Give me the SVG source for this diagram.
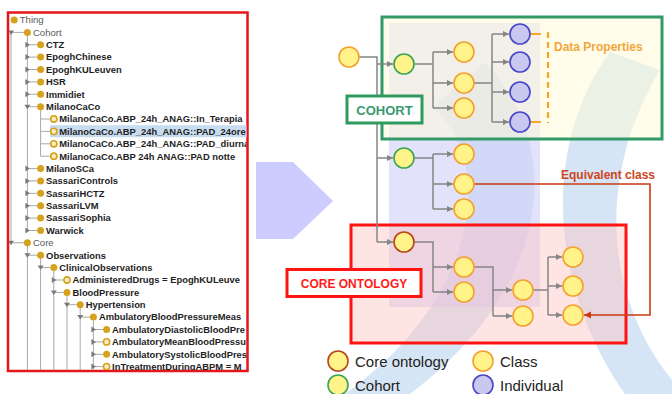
<svg xmlns="http://www.w3.org/2000/svg" width="672" height="394" viewBox="0 0 672 394">
<defs>
<style>
.t{font-family:"Liberation Sans",Arial,sans-serif;font-size:9.4px;font-weight:bold;fill:#1e1e1e}
.tn{font-family:"Liberation Sans",Arial,sans-serif;font-size:9.6px;fill:#5a5a5a}
.bf{fill:#d6a21e}
.br{fill:#fbeec4;stroke:#d6a21e;stroke-width:1.6}
.ex{fill:#7a7a7a}
.tl{stroke:#a8a8a8;stroke-width:1;fill:none}
.cls{fill:#fff38a;stroke:#f5a030;stroke-width:1.6}
.coh{fill:#fff38a;stroke:#3aa655;stroke-width:1.6}
.core{fill:#fff38a;stroke:#b8451a;stroke-width:1.6}
.ind{fill:#c8c8f0;stroke:#4646c8;stroke-width:1.6}
.cn{stroke:#858585;stroke-width:1.5;fill:none}
.lg{font-family:"Liberation Sans",Arial,sans-serif;font-size:15px;fill:#222}
</style>
<marker id="ah" markerWidth="7" markerHeight="7" refX="6" refY="3" orient="auto" markerUnits="userSpaceOnUse"><path d="M0,0 L6,3 L0,6 z" fill="#858585"/></marker>
<marker id="ahr" markerWidth="8" markerHeight="8" refX="7" refY="3.5" orient="auto" markerUnits="userSpaceOnUse"><path d="M0,0 L7,3.5 L0,7 z" fill="#cc3a10"/></marker>
<clipPath id="treeclip"><rect x="9" y="14" width="237.5" height="356"/></clipPath>
</defs>
<rect width="672" height="394" fill="#ffffff"/>

<!-- background watermark -->
<g id="background">
<path d="M485,62 C560,140 560,280 410,394 L345,394 C490,290 490,150 432,108 Z" fill="#c4daf1" opacity="0.7"/>
<path d="M610,52 C545,140 545,280 625,394 L672,394 L672,380 C600,290 600,170 660,70 Z" fill="#c4daf1" opacity="0.7"/>
<rect x="389" y="23" width="151" height="284" fill="#cfcff8" opacity="0.6"/>
<polygon points="256,162 293,162 333,201 293,239 256,239" fill="#ccccff"/>
</g>

<!-- left panel: class tree -->
<g id="tree-panel">
<rect x="8" y="12.5" width="239.5" height="358.5" fill="#ffffff" stroke="#e4161c" stroke-width="2.5"/>
<g clip-path="url(#treeclip)">
<rect x="50" y="125.2" width="197" height="12" fill="#c8dcf0"/>
<g id="tree-lines">
<line class="tl" x1="11" y1="32.4" x2="11" y2="242.8"/>
<line class="tl" x1="27.4" y1="36" x2="27.4" y2="230.5"/>
<line class="tl" x1="40.6" y1="110" x2="40.6" y2="156.2"/>
<line class="tl" x1="27.4" y1="246" x2="27.4" y2="372"/>
<line class="tl" x1="40.6" y1="258.5" x2="40.6" y2="372"/>
<line class="tl" x1="53.8" y1="271" x2="53.8" y2="372"/>
<line class="tl" x1="67" y1="296" x2="67" y2="372"/>
<line class="tl" x1="80.2" y1="308" x2="80.2" y2="372"/>
<line class="tl" x1="93.4" y1="320.5" x2="93.4" y2="372"/>
</g>
<g id="t-thing"><circle class="bf" cx="14.2" cy="20" r="3.5"/><text class="tn" x="19.7" y="23.3">Thing</text></g>
<g id="t-cohort"><line class="tl" x1="11" y1="32.4" x2="24" y2="32.4"/><polygon class="ex" points="8,30.4 14,30.4 11,34.9"/><circle class="bf" cx="27.4" cy="32.4" r="3.5"/><text class="tn" x="32.9" y="35.7">Cohort</text></g>
<g id="t-ctz"><line class="tl" x1="27.4" y1="44.8" x2="37" y2="44.8"/><polygon class="ex" points="25.4,41.8 29.9,44.8 25.4,47.8"/><circle class="bf" cx="40.6" cy="44.8" r="3.5"/><text class="t" x="46.1" y="48.1">CTZ</text></g>
<g id="t-epoghchinese"><line class="tl" x1="27.4" y1="57.1" x2="37" y2="57.1"/><polygon class="ex" points="25.4,54.1 29.9,57.1 25.4,60.1"/><circle class="bf" cx="40.6" cy="57.1" r="3.5"/><text class="t" x="46.1" y="60.4">EpoghChinese</text></g>
<g id="t-epoghkuleuven"><line class="tl" x1="27.4" y1="69.5" x2="37" y2="69.5"/><polygon class="ex" points="25.4,66.5 29.9,69.5 25.4,72.5"/><circle class="bf" cx="40.6" cy="69.5" r="3.5"/><text class="t" x="46.1" y="72.8">EpoghKULeuven</text></g>
<g id="t-hsr"><line class="tl" x1="27.4" y1="81.9" x2="37" y2="81.9"/><polygon class="ex" points="25.4,78.9 29.9,81.9 25.4,84.9"/><circle class="bf" cx="40.6" cy="81.9" r="3.5"/><text class="t" x="46.1" y="85.2">HSR</text></g>
<g id="t-immidiet"><line class="tl" x1="27.4" y1="94.3" x2="37" y2="94.3"/><polygon class="ex" points="25.4,91.3 29.9,94.3 25.4,97.3"/><circle class="bf" cx="40.6" cy="94.3" r="3.5"/><text class="t" x="46.1" y="97.6">Immidiet</text></g>
<g id="t-milanocaco"><line class="tl" x1="27.4" y1="106.7" x2="37" y2="106.7"/><polygon class="ex" points="24.4,104.7 30.4,104.7 27.4,109.2"/><circle class="bf" cx="40.6" cy="106.7" r="3.5"/><text class="t" x="46.1" y="110">MilanoCaCo</text></g>
<g id="t-interapia"><line class="tl" x1="40.6" y1="119" x2="50.3" y2="119"/><circle class="br" cx="53.8" cy="119" r="3.1"/><text class="t" x="59.3" y="122.3">MilanoCaCo.ABP_24h_ANAG::In_Terapia</text></g>
<g id="t-pad24ore"><line class="tl" x1="40.6" y1="131.4" x2="50.3" y2="131.4"/><circle class="br" cx="53.8" cy="131.4" r="3.1"/><text class="t" x="59.3" y="134.7">MilanoCaCo.ABP_24h_ANAG::PAD_24ore</text></g>
<g id="t-paddiurna"><line class="tl" x1="40.6" y1="143.8" x2="50.3" y2="143.8"/><circle class="br" cx="53.8" cy="143.8" r="3.1"/><text class="t" x="59.3" y="147.1">MilanoCaCo.ABP_24h_ANAG::PAD_diurna</text></g>
<g id="t-padnotte"><line class="tl" x1="40.6" y1="156.2" x2="50.3" y2="156.2"/><circle class="br" cx="53.8" cy="156.2" r="3.1"/><text class="t" x="59.3" y="159.5">MilanoCaCo.ABP 24h ANAG::PAD notte</text></g>
<g id="t-milanosca"><line class="tl" x1="27.4" y1="168.6" x2="37" y2="168.6"/><polygon class="ex" points="25.4,165.6 29.9,168.6 25.4,171.6"/><circle class="bf" cx="40.6" cy="168.6" r="3.5"/><text class="t" x="46.1" y="171.9">MilanoSCa</text></g>
<g id="t-sassaricontrols"><line class="tl" x1="27.4" y1="180.9" x2="37" y2="180.9"/><polygon class="ex" points="25.4,177.9 29.9,180.9 25.4,183.9"/><circle class="bf" cx="40.6" cy="180.9" r="3.5"/><text class="t" x="46.1" y="184.2">SassariControls</text></g>
<g id="t-sassarihctz"><line class="tl" x1="27.4" y1="193.3" x2="37" y2="193.3"/><polygon class="ex" points="25.4,190.3 29.9,193.3 25.4,196.3"/><circle class="bf" cx="40.6" cy="193.3" r="3.5"/><text class="t" x="46.1" y="196.6">SassariHCTZ</text></g>
<g id="t-sassarilvm"><line class="tl" x1="27.4" y1="205.7" x2="37" y2="205.7"/><polygon class="ex" points="25.4,202.7 29.9,205.7 25.4,208.7"/><circle class="bf" cx="40.6" cy="205.7" r="3.5"/><text class="t" x="46.1" y="209">SassariLVM</text></g>
<g id="t-sassarisophia"><line class="tl" x1="27.4" y1="218.1" x2="37" y2="218.1"/><polygon class="ex" points="25.4,215.1 29.9,218.1 25.4,221.1"/><circle class="bf" cx="40.6" cy="218.1" r="3.5"/><text class="t" x="46.1" y="221.4">SassariSophia</text></g>
<g id="t-warwick"><line class="tl" x1="27.4" y1="230.5" x2="37" y2="230.5"/><polygon class="ex" points="25.4,227.5 29.9,230.5 25.4,233.5"/><circle class="bf" cx="40.6" cy="230.5" r="3.5"/><text class="t" x="46.1" y="233.8">Warwick</text></g>
<g id="t-core"><line class="tl" x1="11" y1="242.8" x2="24" y2="242.8"/><polygon class="ex" points="8,240.8 14,240.8 11,245.3"/><circle class="bf" cx="27.4" cy="242.8" r="3.5"/><text class="tn" x="32.9" y="246.1">Core</text></g>
<g id="t-observations"><line class="tl" x1="27.4" y1="255.2" x2="37" y2="255.2"/><polygon class="ex" points="24.4,253.2 30.4,253.2 27.4,257.7"/><circle class="bf" cx="40.6" cy="255.2" r="3.5"/><text class="t" x="46.1" y="258.5">Observations</text></g>
<g id="t-clinical"><line class="tl" x1="40.6" y1="267.6" x2="50.3" y2="267.6"/><polygon class="ex" points="37.6,265.6 43.6,265.6 40.6,270.1"/><circle class="bf" cx="53.8" cy="267.6" r="3.5"/><text class="t" x="59.3" y="270.9">ClinicalObservations</text></g>
<g id="t-drugs"><line class="tl" x1="53.8" y1="280" x2="63.5" y2="280"/><polygon class="ex" points="51.8,277 56.3,280 51.8,283"/><circle class="br" cx="67" cy="280" r="3.1"/><text class="t" x="72.5" y="283.3">AdministeredDrugs = EpoghKULeuve</text></g>
<g id="t-bp"><line class="tl" x1="53.8" y1="292.4" x2="63.5" y2="292.4"/><polygon class="ex" points="50.8,290.4 56.8,290.4 53.8,294.9"/><circle class="bf" cx="67" cy="292.4" r="3.5"/><text class="t" x="72.5" y="295.7">BloodPressure</text></g>
<g id="t-hyper"><line class="tl" x1="67" y1="304.7" x2="76.7" y2="304.7"/><polygon class="ex" points="64,302.7 70,302.7 67,307.2"/><circle class="bf" cx="80.2" cy="304.7" r="3.5"/><text class="t" x="85.7" y="308">Hypertension</text></g>
<g id="t-abpm"><line class="tl" x1="80.2" y1="317.1" x2="89.9" y2="317.1"/><polygon class="ex" points="77.2,315.1 83.2,315.1 80.2,319.6"/><circle class="bf" cx="93.4" cy="317.1" r="3.5"/><text class="t" x="98.9" y="320.4">AmbulatoryBloodPressureMeas</text></g>
<g id="t-diastolic"><line class="tl" x1="93.4" y1="329.5" x2="103.1" y2="329.5"/><polygon class="ex" points="91.4,326.5 95.9,329.5 91.4,332.5"/><circle class="bf" cx="106.6" cy="329.5" r="3.5"/><text class="t" x="112.1" y="332.8">AmbulatoryDiastolicBloodPre</text></g>
<g id="t-mean"><line class="tl" x1="93.4" y1="341.9" x2="103.1" y2="341.9"/><polygon class="ex" points="91.4,338.9 95.9,341.9 91.4,344.9"/><circle class="br" cx="106.6" cy="341.9" r="3.1"/><text class="t" x="112.1" y="345.2">AmbulatoryMeanBloodPressu</text></g>
<g id="t-systolic"><line class="tl" x1="93.4" y1="354.3" x2="103.1" y2="354.3"/><polygon class="ex" points="91.4,351.3 95.9,354.3 91.4,357.3"/><circle class="bf" cx="106.6" cy="354.3" r="3.5"/><text class="t" x="112.1" y="357.6">AmbulatorySystolicBloodPres</text></g>
<g id="t-intreatment"><line class="tl" x1="93.4" y1="366.6" x2="103.1" y2="366.6"/><polygon class="ex" points="91.4,363.6 95.9,366.6 91.4,369.6"/><circle class="br" cx="106.6" cy="366.6" r="3.1"/><text class="t" x="112.1" y="369.9">InTreatmentDuringABPM = M</text></g>
</g>
</g>

<!-- right diagram: region boxes -->
<g id="cohort-box">
<rect x="382" y="17" width="280" height="122" fill="#fffbd8" fill-opacity="0.55" stroke="#339966" stroke-width="3"/>
</g>
<g id="core-box">
<rect x="351" y="225" width="275" height="118" fill="#ffc4c4" fill-opacity="0.45" stroke="#ff1414" stroke-width="3"/>
</g>

<!-- connectors -->
<g id="connectors">
<path class="cn" d="M359,57 H377 V242"/>
<path class="cn" d="M377,64 H393" marker-end="url(#ah)"/>
<path class="cn" d="M377,158 H393" marker-end="url(#ah)"/>
<path class="cn" d="M377,242 H393" marker-end="url(#ah)"/>
<path class="cn" d="M414,64 H433 M433,52 V108"/>
<path class="cn" d="M433,52 H453" marker-end="url(#ah)"/>
<path class="cn" d="M433,83 H453" marker-end="url(#ah)"/>
<path class="cn" d="M433,108 H453" marker-end="url(#ah)"/>
<path class="cn" d="M474,83 H492 M492,34 V122"/>
<path class="cn" d="M492,34 H509" marker-end="url(#ah)"/>
<path class="cn" d="M492,62 H509" marker-end="url(#ah)"/>
<path class="cn" d="M492,92 H509" marker-end="url(#ah)"/>
<path class="cn" d="M492,122 H509" marker-end="url(#ah)"/>
<path class="cn" d="M414,158 H433 M433,154 V209"/>
<path class="cn" d="M433,154 H453" marker-end="url(#ah)"/>
<path class="cn" d="M433,184 H453" marker-end="url(#ah)"/>
<path class="cn" d="M433,209 H453" marker-end="url(#ah)"/>
<path class="cn" d="M414,242 H433 V292"/>
<path class="cn" d="M433,267 H453" marker-end="url(#ah)"/>
<path class="cn" d="M433,292 H453" marker-end="url(#ah)"/>
<path class="cn" d="M474,267 H493 V316"/>
<path class="cn" d="M493,290 H512" marker-end="url(#ah)"/>
<path class="cn" d="M493,316 H512" marker-end="url(#ah)"/>
<path class="cn" d="M533,290 H548 M548,257 V315"/>
<path class="cn" d="M548,257 H562" marker-end="url(#ah)"/>
<path class="cn" d="M548,286 H562" marker-end="url(#ah)"/>
<path class="cn" d="M548,315 H562" marker-end="url(#ah)"/>
<path d="M474,184 H650 V315 H584" fill="none" stroke="#cc3a10" stroke-width="1.6" marker-end="url(#ahr)"/>
<path d="M530,34 H541 M530,122 H541" stroke="#f5a623" stroke-width="2.2" fill="none"/>
<path d="M548,32 V123" stroke="#f5a623" stroke-width="2.2" stroke-dasharray="6,4" fill="none"/>
</g>

<!-- nodes -->
<g id="n-root"><circle class="cls" cx="349" cy="57" r="10"/></g>
<g id="n-cohort1"><circle class="coh" cx="404" cy="64" r="10"/></g>
<g id="n-c1a"><circle class="cls" cx="464" cy="52" r="10"/></g>
<g id="n-c1b"><circle class="cls" cx="464" cy="83" r="10"/></g>
<g id="n-c1c"><circle class="cls" cx="464" cy="108" r="10"/></g>
<g id="n-i1"><circle class="ind" cx="520" cy="34" r="10"/></g>
<g id="n-i2"><circle class="ind" cx="520" cy="62" r="10"/></g>
<g id="n-i3"><circle class="ind" cx="520" cy="92" r="10"/></g>
<g id="n-i4"><circle class="ind" cx="520" cy="122" r="10"/></g>
<g id="n-cohort2"><circle class="coh" cx="404" cy="158" r="10"/></g>
<g id="n-c2a"><circle class="cls" cx="464" cy="154" r="10"/></g>
<g id="n-c2b"><circle class="cls" cx="464" cy="184" r="10"/></g>
<g id="n-c2c"><circle class="cls" cx="464" cy="209" r="10"/></g>
<g id="n-core"><circle class="core" cx="404" cy="242" r="10"/></g>
<g id="n-k1"><circle class="cls" cx="464" cy="267" r="10"/></g>
<g id="n-k2"><circle class="cls" cx="464" cy="292" r="10"/></g>
<g id="n-k3"><circle class="cls" cx="523" cy="290" r="10"/></g>
<g id="n-k4"><circle class="cls" cx="523" cy="316" r="10"/></g>
<g id="n-k5"><circle class="cls" cx="573" cy="257" r="10"/></g>
<g id="n-k6"><circle class="cls" cx="573" cy="286" r="10"/></g>
<g id="n-k7"><circle class="cls" cx="573" cy="315" r="10"/></g>

<!-- labels -->
<g id="lbl-cohort">
<rect x="347" y="96" width="75" height="27" fill="#ffffff" stroke="#2e9a5e" stroke-width="3"/>
<text x="384.5" y="114.5" text-anchor="middle" font-family="'Liberation Sans',Arial,sans-serif" font-size="13" font-weight="bold" fill="#3a9a70">COHORT</text>
</g>
<g id="lbl-core">
<rect x="287" y="269.5" width="134" height="27" fill="#ffffff" stroke="#ff1414" stroke-width="3"/>
<text x="354" y="287.5" text-anchor="middle" font-family="'Liberation Sans',Arial,sans-serif" font-size="12" font-weight="bold" fill="#ff1a1a">CORE ONTOLOGY</text>
</g>
<g id="lbl-dataprops">
<text x="554" y="51" font-family="'Liberation Sans',Arial,sans-serif" font-size="12" font-weight="bold" fill="#f2a63c">Data Properties</text>
</g>
<g id="lbl-equiv">
<text x="561" y="179" font-family="'Liberation Sans',Arial,sans-serif" font-size="12" font-weight="bold" fill="#cc4422">Equivalent class</text>
</g>

<!-- legend -->
<g id="legend">
<circle class="core" cx="338" cy="361" r="10"/><text class="lg" x="355" y="366.5">Core ontology</text>
<circle class="coh" cx="338" cy="385" r="10"/><text class="lg" x="355" y="390.5">Cohort</text>
<circle class="cls" cx="483" cy="361" r="10"/><text class="lg" x="500" y="366.5">Class</text>
<circle class="ind" cx="483" cy="385" r="10"/><text class="lg" x="500" y="390.5">Individual</text>
</g>
</svg>
